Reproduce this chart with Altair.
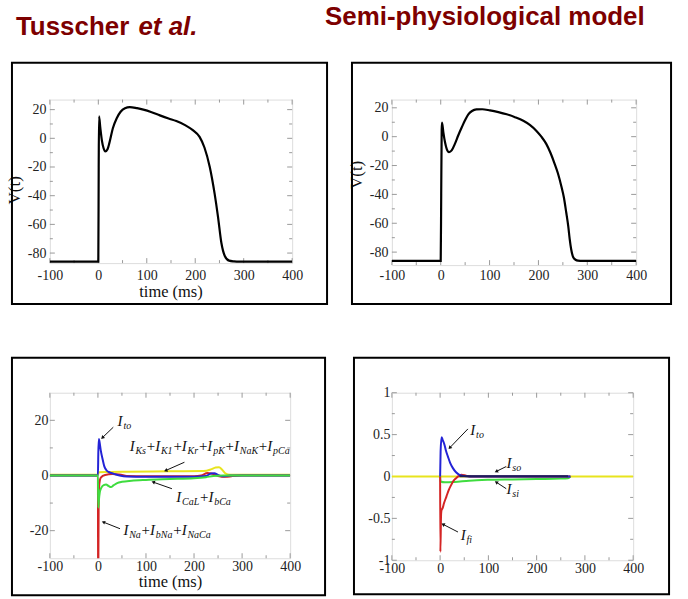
import math
import altair as alt
import pandas as pd

# ---------------- data ----------------
# Top-left: Tusscher et al. action potential
tt_t = [-100, 0, 0.8, 1.5, 4.1, 7.5, 10.9, 14.3, 19, 23, 30, 38, 46, 55, 65, 80, 93, 110, 127,
        145, 161, 180, 195, 209, 219, 230, 240, 247, 254, 261, 270, 280, 291, 400]
tt_v = [-86, -86, -20, 15.4, 7.4, -1.8, -6.9, -9.2, -7.6, -3, 7, 14, 18.5, 21, 21.8, 21, 20, 18.2, 16,
        13.8, 12, 9, 5.7, 1, -6.4, -20, -38.6, -54.7, -73, -82, -85.3, -85.8, -86, -86]

# Top-right: semi-physiological model action potential
sp_t = [-100, 0, 1, 2, 2.7, 5.4, 8.8, 12.2, 17, 22.4, 29, 36, 43, 50, 56.5, 64, 73, 85, 100.7, 118,
        135, 152, 169, 183, 196, 206, 216, 225, 233, 240, 247, 252, 257, 261, 264, 267, 271, 276, 281, 290, 400]
sp_v = [-86.1, -86.1, -40, 5, 9.8, 3, -3.9, -8.4, -10.7, -9.5, -5, 1, 6.4, 11.5, 15.5, 17.8, 18.9, 19, 18.2, 17,
        15.5, 13.5, 11, 8, 4, 0, -5, -11.5, -18.6, -25.5, -34.5, -42, -52.7, -62, -71, -78, -83.4, -85.3, -85.9, -86.1, -86.1]

# Bottom-left: Tusscher currents
k_t = [-100, 0, 2, 20, 60, 150, 220, 235, 245, 252, 258, 265, 275, 400]          # IKs+IK1+IKr+IpK+INaK+IpCa
k_v = [0.3, 0.3, 1.2, 1.3, 1.4, 1.5, 1.6, 2.2, 2.9, 3.0, 2.2, 0.8, 0.3, 0.3]
na_t = [-100, 0, 0.5, 1.5, 3, 6, 15, 30, 45, 60, 100, 200, 215, 228, 238, 250, 265, 280, 300, 400]  # INa+IbNa+INaCa
na_v = [0, 0, -45, -12, -3, -0.8, 0.2, 0.5, 0.4, -0.2, -0.3, -0.3, 0, 0.9, 0.6, -0.2, -0.5, -0.2, 0, 0]
to_t = [-100, 0, 0.8, 1.8, 3, 6, 10, 13, 17, 22, 28, 35, 45, 60, 100, 150, 200, 225, 235, 242, 250, 260, 275, 400]  # Ito
to_v = [0, 0, 8, 13.2, 12.5, 9, 5.7, 3.5, 2.1, 1.3, 0.9, 0.5, 0, -0.4, -0.5, -0.5, -0.5, -0.2, 0.7, 0.8, 0.2, -0.3, 0, 0]
ca_t = [-100, 0, 0.8, 2, 4, 7, 12, 17, 22, 27, 33, 40, 50, 70, 100, 150, 200, 225, 240, 260, 400]  # ICaL+IbCa
ca_v = [0, 0, -11.6, -9, -6, -4.5, -3.5, -3.3, -3.8, -4.2, -3.5, -2.8, -2.3, -1.9, -1.6, -1.3, -1.0, -0.6, -0.2, 0, 0]

# Bottom-right: semi-physiological currents
zero_t = [-100, 400]
zero_v = [0, 0]
si_t = [0, 1, 10, 30, 60, 100, 150, 200, 250, 265, 270]                               # Isi
si_v = [0, -0.06, -0.07, -0.065, -0.05, -0.04, -0.035, -0.03, -0.025, -0.02, 0]
fi_t = [0, 0.5, 2, 3, 5, 8, 13, 18, 23, 28, 33, 40, 44, 54, 65, 270]                    # Ifi
fi_v = [0, -0.9, -0.45, -0.4, -0.38, -0.32, -0.24, -0.16, -0.1, -0.05, -0.02, 0.01, 0.02, 0.01, 0, 0]
sto_t = [0, 1, 3, 5, 9, 12, 16, 21, 26.5, 33, 40, 50, 60, 270]                          # Ito
sto_v = [0, 0.3, 0.47, 0.44, 0.38, 0.31, 0.24, 0.16, 0.1, 0.05, 0.02, 0.005, 0, 0]
so_t = [40, 100, 200, 265]                                                             # Iso
so_v = [0.004, 0.004, 0.003, 0.002]

# annotation labels: (t, v, subscripts) and arrows (t, v, t2, v2)
bl_labels = [(41, 18, ["to"]), (66, 9, ["Ks", "K1", "Kr", "pK", "NaK", "pCa"]),
             (163, -9.6, ["CaL", "bCa"]), (53, -21.7, ["Na", "bNa", "NaCa"])]
bl_arrows = [(32, 17.5, 9.3, 13.7), (180, 4.8, 141, 1.8), (154, -4.8, 115, -2.4), (46, -19.3, 11.4, -16.9)]
br_labels = [(62.6, 0.5, ["to"]), (137.6, 0.104, ["so"]), (137.6, -0.206, ["si"]), (42.6, -0.76, ["fi"])]
br_arrows = [(57.6, 0.568, 19.8, 0.342), (137, 0.119, 116.3, 0.06), (137, -0.146, 116.3, -0.068), (37, -0.663, 6, -0.571)]

x_major = [-100, 0, 100, 200, 300, 400]
x_minor = [-50, 50, 150, 250, 350]

# ---------------- styling ----------------
SERIF = "Liberation Serif"
SANS = "Liberation Sans"
FRAME = "#9a9a9a"
BLUE, RED, GREEN, YELLOW = "#2323d6", "#d42424", "#3fdc3f", "#e8e41e"
TITLE_RED = "#7d0000"

W = {"TL": 243, "TR": 245, "BL": 241, "BR": 242}
H = {"TL": 164, "TR": 166, "BL": 166, "BR": 168}

IT_W = {"I": .333, "K": .667, "N": .667, "C": .667, "L": .556, "a": .5, "b": .5, "o": .5, "t": .278,
        "s": .389, "r": .389, "p": .5, "i": .278, "f": .278, "l": .278, "1": .5}
PLUS_W = .564
BIG, SUB = 15, 10

one = pd.DataFrame({"a": [0]})


def value_text(text, x, y, **kw):
    return alt.Chart(one).mark_text(text=text, **kw).encode(x=alt.value(x), y=alt.value(y))


def box(x1, y1, x2, y2):
    return alt.Chart(one).mark_rect(filled=False, stroke="black", strokeWidth=2).encode(
        x=alt.value(x1), x2=alt.value(x2), y=alt.value(y1), y2=alt.value(y2))


def panel(key, ydom, y_major, y_minor, series, xpad, ypad, labels=None, arrows=None, decor=()):
    w, h = W[key], H[key]
    sx = alt.Scale(domain=[-100, 400], nice=False, zero=False)
    sy = alt.Scale(domain=ydom, nice=False, zero=False)
    axx = alt.Axis(values=x_major, labelExpr="'' + datum.value", ticks=False, domain=False, grid=False,
                   labelPadding=xpad, labelFont=SERIF, labelFontSize=14, labelColor="#222",
                   labelFlush=False, labelOverlap=False, title=None)
    axy = alt.Axis(values=y_major, labelExpr="'' + datum.value", ticks=False, domain=False, grid=False,
                   labelPadding=ypad, labelFont=SERIF, labelFontSize=14, labelColor="#222",
                   labelFlush=False, labelOverlap=False, title=None)

    def X(f="t"):
        return alt.X(f + ":Q", scale=sx, axis=axx)

    def Y(f="v"):
        return alt.Y(f + ":Q", scale=sy, axis=axy)

    layers = []
    # inward ticks on all four sides
    for vals, ln in ((x_major, 5), (x_minor, 3)):
        d = pd.DataFrame({"t": vals})
        layers.append(alt.Chart(d).mark_rule(color=FRAME, strokeWidth=1).encode(
            x=X(), y=alt.value(h), y2=alt.value(h - ln)))
        layers.append(alt.Chart(d).mark_rule(color=FRAME, strokeWidth=1).encode(
            x=X(), y=alt.value(0), y2=alt.value(ln)))
    for vals, ln in ((y_major, 5), (y_minor, 3)):
        d = pd.DataFrame({"v": vals})
        layers.append(alt.Chart(d).mark_rule(color=FRAME, strokeWidth=1).encode(
            y=Y(), x=alt.value(0), x2=alt.value(ln)))
        layers.append(alt.Chart(d).mark_rule(color=FRAME, strokeWidth=1).encode(
            y=Y(), x=alt.value(w), x2=alt.value(w - ln)))
    # curves
    for tv, vv, color, sw in series:
        layers.append(alt.Chart(pd.DataFrame({"t": tv, "v": vv})).mark_line(
            color=color, strokeWidth=sw, clip=True, interpolate="monotone").encode(x=X(), y=Y()))
    # annotations
    pxms = w / 500.0
    pxv = h / float(ydom[1] - ydom[0])
    if labels:
        rows = []
        for t0, v0, subs in labels:
            xo = 0.0
            for i, s in enumerate(subs):
                if i > 0:
                    rows.append({"t": t0 + xo / pxms, "v": v0, "txt": "+", "k": "plus"})
                    xo += PLUS_W * BIG
                rows.append({"t": t0 + xo / pxms, "v": v0, "txt": "I", "k": "big"})
                xo += IT_W["I"] * BIG + 0.8
                rows.append({"t": t0 + xo / pxms, "v": v0, "txt": s, "k": "sub"})
                xo += sum(IT_W[c] for c in s) * SUB + 0.8
        df = pd.DataFrame(rows)
        for kind, size, style, dy in (("big", BIG, "italic", 0), ("sub", SUB, "italic", 3), ("plus", BIG, "normal", 0)):
            layers.append(alt.Chart(df[df.k == kind]).mark_text(
                align="left", baseline="alphabetic", font=SERIF, fontSize=size, fontStyle=style,
                dy=dy, color="#111").encode(x=X(), y=Y(), text="txt:N"))
    if arrows:
        rows = []
        for t1, v1, t2, v2 in arrows:
            dx = (t2 - t1) * pxms
            dys = -(v2 - v1) * pxv
            ang = math.degrees(math.atan2(dx, -dys)) % 360
            rows.append({"t": t1, "v": v1, "t2": t2, "v2": v2, "ang": ang})
        df = pd.DataFrame(rows)
        layers.append(alt.Chart(df).mark_rule(color="#111", strokeWidth=1).encode(
            x=X(), y=Y(), x2="t2:Q", y2="v2:Q"))
        layers.append(alt.Chart(df).mark_point(shape="triangle-up", filled=True, color="#111",
                                               size=16, opacity=1).encode(
            x=X("t2"), y=Y("v2"), angle=alt.Angle("ang:Q", scale=None)))
    layers.extend(decor)
    return alt.layer(*layers).properties(width=w, height=h)


# ---------------- panels ----------------
tl = panel("TL", [-87, 27], [-80, -60, -40, -20, 0, 20], [-70, -50, -30, -10, 10],
           [(tt_t, tt_v, "black", 2.2)], xpad=5, ypad=4,
           decor=[
               value_text("V(t)", -30, 91, angle=270, align="center", baseline="alphabetic",
                          font=SERIF, fontSize=17, color="#111"),
               value_text("time (ms)", 121.5, 198, align="center", baseline="alphabetic",
                          font=SERIF, fontSize=16.5, color="#111"),
               value_text("Tusscher ", -34, -65, align="left", baseline="alphabetic", font=SANS,
                          fontSize=26, fontWeight="bold", color=TITLE_RED),
               value_text("et al.", -34 + 26 * 4.724, -65, align="left", baseline="alphabetic",
                          font=SANS, fontSize=26, fontWeight="bold", fontStyle="italic", color=TITLE_RED),
               box(-38, -37, 278, 205),
               alt.Chart(one).mark_rect(opacity=0).encode(
                   x=alt.value(-49), x2=alt.value(639), y=alt.value(-98), y2=alt.value(501)),
           ])

tr = panel("TR", [-89, 25.7], [-80, -60, -40, -20, 0, 20], [-70, -50, -30, -10, 10],
           [(sp_t, sp_v, "black", 2.2)], xpad=3, ypad=4,
           decor=[
               value_text("V(t)", -30, 75.5, angle=270, align="center", baseline="alphabetic",
                          font=SERIF, fontSize=17, color="#111"),
               value_text("Semi-physiological model", -67, -75, align="left", baseline="alphabetic",
                          font=SANS, fontSize=26, fontWeight="bold", color=TITLE_RED),
               box(-40, -37, 280, 205),
           ])

bl = panel("BL", [-30, 30], [-20, 0, 20], [-10, 10],
           [(k_t, k_v, YELLOW, 2), (na_t, na_v, RED, 2), (to_t, to_v, BLUE, 2), (ca_t, ca_v, GREEN, 2)],
           xpad=1, ypad=2, labels=bl_labels, arrows=bl_arrows,
           decor=[
               value_text("time (ms)", 121, 195, align="center", baseline="alphabetic",
                          font=SERIF, fontSize=16.5, color="#111"),
               box(-38, -35, 276, 203),
           ])

br = panel("BR", [-1, 1], [-1, -0.5, 0, 0.5, 1], [-0.75, -0.25, 0.25, 0.75],
           [(zero_t, zero_v, YELLOW, 2), (si_t, si_v, GREEN, 2), (fi_t, fi_v, RED, 2),
            (sto_t, sto_v, BLUE, 2), (so_t, so_v, "#1c1c5a", 2)],
           xpad=1, ypad=2, labels=br_labels, arrows=br_arrows,
           decor=[box(-38, -35, 278, 202)])

chart = alt.concat(tl, tr, bl, br, columns=2, spacing={"row": 128, "column": 100},
                   bounds="flush", padding=0).configure_view(
    stroke=FRAME, strokeWidth=1).configure(background="white")

chart.save("out.html", embed_options={"renderer": "svg", "actions": False})
